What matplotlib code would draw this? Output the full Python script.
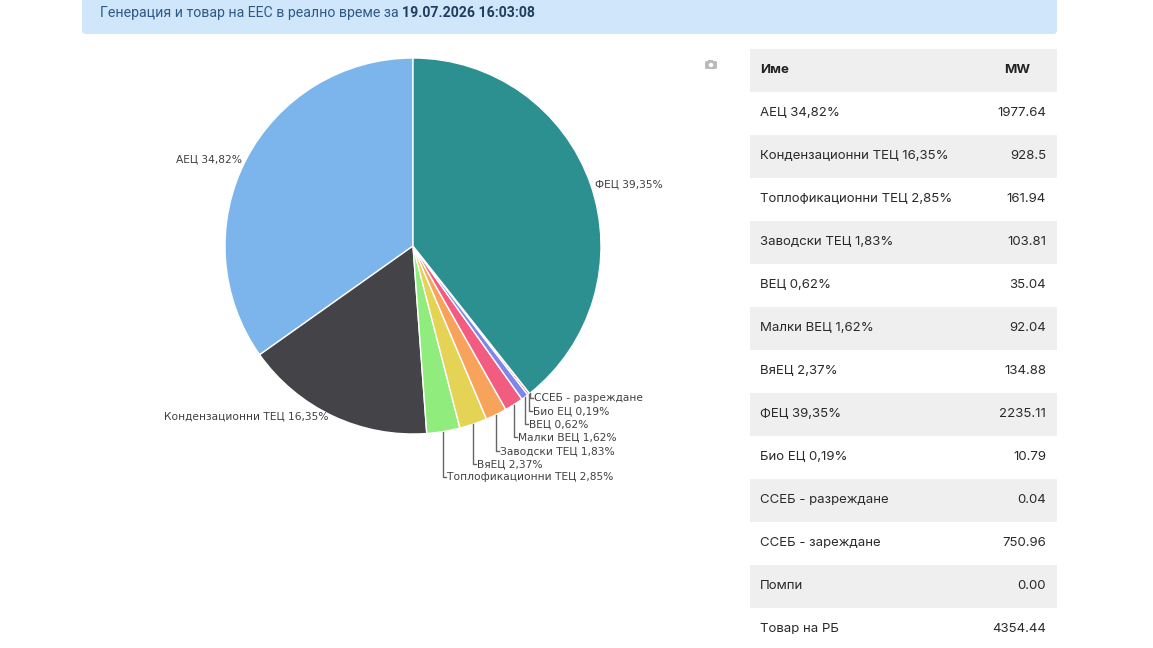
import matplotlib.pyplot as plt
from matplotlib.patches import FancyBboxPatch, Rectangle, Circle
import numpy as np

W, H = 1153, 648

# pie slices, counter-clockwise from 12 o'clock (MW)
pie_names = ["АЕЦ", "Кондензационни ТЕЦ", "Топлофикационни ТЕЦ", "ВяЕЦ", "Заводски ТЕЦ",
             "Малки ВЕЦ", "ВЕЦ", "Био ЕЦ", "ССЕБ - разреждане", "ФЕЦ"]
pie_mw = [1977.64, 928.5, 161.94, 134.88, 103.81, 92.04, 35.04, 10.79, 0.04, 2235.11]
pie_colors = ["#7cb5ec", "#434348", "#90ed7d", "#e4d354", "#f7a35c",
              "#f15c80", "#8085e9", "#f45b5b", "#91e8e1", "#2b908f"]

# table rows
table_names = ["АЕЦ 34,82%", "Кондензационни ТЕЦ 16,35%", "Топлофикационни ТЕЦ 2,85%",
               "Заводски ТЕЦ 1,83%", "ВЕЦ 0,62%", "Малки ВЕЦ 1,62%", "ВяЕЦ 2,37%",
               "ФЕЦ 39,35%", "Био ЕЦ 0,19%", "ССЕБ - разреждане", "ССЕБ - зареждане",
               "Помпи", "Товар на РБ"]
table_mw = ["1977.64", "928.5", "161.94", "103.81", "35.04", "92.04", "134.88",
            "2235.11", "10.79", "0.04", "750.96", "0.00", "4354.44"]

title_plain = "Генерация и товар на ЕЕС в реално време за "
title_bold = "19.07.2026 16:03:08"

# layout for stacked labels of the small slices (pixel rows from top)
small_label_y = {2: 477, 3: 464, 4: 451, 5: 437, 6: 424, 7: 411, 8: 398}

cx, cy, R = 413, H - 246, 188
lab_fs = 7.7
tab_fs = 9.5

fig = plt.figure(figsize=(W / 100, H / 100), dpi=100)
ax = fig.add_axes([0, 0, 1, 1])

# header bar
ax.add_patch(FancyBboxPatch((82, H - 34), 975, 50, boxstyle="round,pad=0,rounding_size=4",
                            fc="#cfe6fb", ec="none"))
t1 = ax.text(100, H - 13, title_plain, fontsize=10.2, family="Roboto",
             color="#2f5a85", va="center", ha="left")
ax.annotate(title_bold, xy=(1, 0.5), xycoords=t1, va="center", ha="left",
            fontsize=10.2, family="Roboto", fontweight="bold", color="#1f3d5e")

# pie
wedges, _ = ax.pie(pie_mw, colors=pie_colors, startangle=90, counterclock=True,
                   center=(cx, cy), radius=R, frame=True,
                   wedgeprops=dict(edgecolor="white", linewidth=1))

total = sum(pie_mw)
for i, w in enumerate(wedges):
    pct = pie_mw[i] / total * 100
    label = pie_names[i]
    if round(pct, 2) > 0:
        label += " " + f"{pct:.2f}".replace(".", ",") + "%"
    mid = np.radians((w.theta1 + w.theta2) / 2)
    ex, ey = cx + R * np.cos(mid), cy + R * np.sin(mid)
    if i in small_label_y:
        ly = H - small_label_y[i]
        ax.plot([ex, ex, ex + 3], [ey, ly, ly], color="#666666", lw=1)
        ax.text(ex + 4, ly, label, fontsize=lab_fs, color="#404040", va="center", ha="left")
    else:
        if np.cos(mid) < 0:
            ax.text(ex - 4, ey, label, fontsize=lab_fs, color="#404040", va="center", ha="right")
        else:
            ax.text(ex + 4, ey, label, fontsize=lab_fs, color="#404040", va="center", ha="left")

# camera icon
ax.add_patch(FancyBboxPatch((705, H - 69), 12, 8, boxstyle="round,pad=0,rounding_size=1.5",
                            fc="#bbbbbb", ec="none"))
ax.add_patch(Rectangle((708, H - 62), 5, 2, fc="#bbbbbb", ec="none"))
ax.add_patch(Circle((711, H - 65), 2.2, fc="white", ec="none"))

# table
row_h = 43
x0, x1 = 750, 1057
y_c = 70
ax.add_patch(Rectangle((x0, H - y_c - row_h / 2), x1 - x0, row_h, fc="#efefef", ec="none"))
ax.text(760, H - y_c, "Име", fontsize=tab_fs, family="Inter", fontweight="bold",
        color="#222222", va="center", ha="left")
ax.text(1017, H - y_c, "MW", fontsize=tab_fs, family="Inter", fontweight="bold",
        color="#222222", va="center", ha="center")
for k, (name, mw) in enumerate(zip(table_names, table_mw)):
    yc = y_c + row_h * (k + 1)
    if (k + 1) % 2 == 0:
        ax.add_patch(Rectangle((x0, H - yc - row_h / 2), x1 - x0, row_h,
                               fc="#efefef", ec="none"))
    ax.text(760, H - yc, name, fontsize=tab_fs, family="Inter", color="#2a2a2a",
            va="center", ha="left")
    ax.text(1046, H - yc, mw, fontsize=tab_fs, family="Inter", color="#2a2a2a",
            va="center", ha="right")

ax.set_xlim(0, W)
ax.set_ylim(0, H)
ax.set_aspect("auto")
ax.axis("off")

fig.savefig("out.png", dpi=100)
